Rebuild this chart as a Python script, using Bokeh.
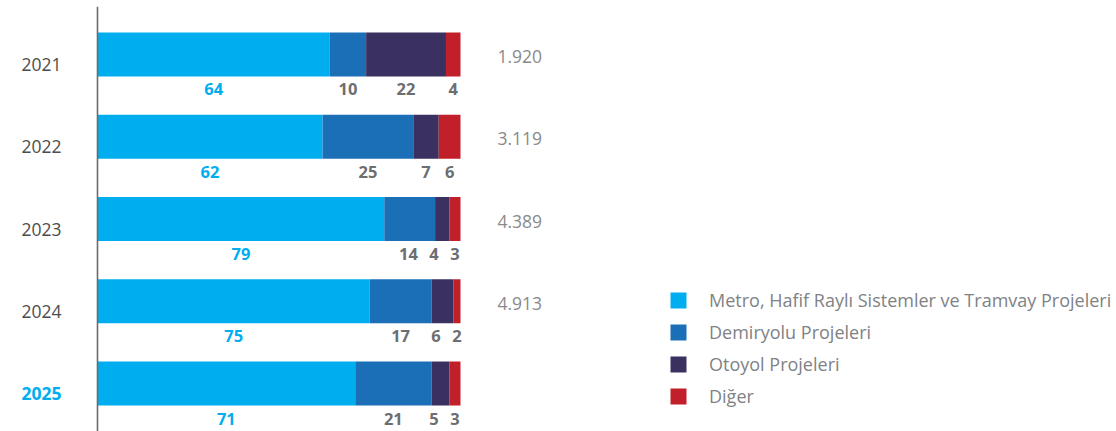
from bokeh.plotting import figure
from bokeh.models import Range1d, FactorRange, Span, Legend, LegendItem, ColumnDataSource
from bokeh.core.properties import value
from bokeh.embed import file_html
from bokeh.resources import INLINE

# ---- data ----
years = ["2021", "2022", "2023", "2024", "2025"]
series_names = ["Metro, Hafif Raylı Sistemler ve Tramvay Projeleri",
                "Demiryolu Projeleri", "Otoyol Projeleri", "Diğer"]
metro = [64, 62, 79, 75, 71]
demiryolu = [10, 25, 14, 17, 21]
otoyol = [22, 7, 4, 6, 5]
diger = [4, 6, 3, 2, 3]
totals = ["1.920", "3.119", "4.389", "4.913", ""]

# ---- style ----
FONT = "Open Sans"
COLORS = ["#00AEEF", "#1B6FB6", "#3B3161", "#C1202A"]
W, H = 1116, 431
AX_PX = 97          # pixel position of x=0 inside the figure
PPU = 3.63          # pixels per percent

keys = ["metro", "demiryolu", "otoyol", "diger"]
vals = [metro, demiryolu, otoyol, diger]
src = ColumnDataSource(dict(year=years, metro=metro, demiryolu=demiryolu,
                            otoyol=otoyol, diger=diger))

p = figure(width=W, height=H, output_backend="svg", toolbar_location=None,
           x_range=Range1d(-AX_PX / PPU, (W - AX_PX) / PPU),
           y_range=FactorRange(factors=list(reversed(years)), range_padding=0.0834,
                               range_padding_units="absolute"),
           x_axis_location=None, y_axis_location=None,
           min_border_left=0, min_border_right=0, min_border_top=6, min_border_bottom=0)
p.outline_line_color = None
p.xgrid.visible = False
p.ygrid.visible = False
p.background_fill_color = None
p.border_fill_color = None

renderers = p.hbar_stack(keys, y="year", height=0.535, color=COLORS, line_color=None, source=src)

# axis line at x = 0
p.add_layout(Span(location=0, dimension="height", line_color="#6b6b6b", line_width=1.6))

# year labels
p.text(x=[0] * len(years), y=years, text=years,
       text_color=["#4d4d4d"] * 4 + ["#00AEEF"],
       text_font_style=["normal"] * 4 + ["bold"],
       text_font=value(FONT), text_font_size="17.5px",
       text_align="right", text_baseline="middle", x_offset=-36, y_offset=10)

# segment value labels, centred under each segment, nudged apart from the right
lx, ly, lt, lc = [], [], [], []
for i, yr in enumerate(years):
    row = [v[i] for v in vals]
    left = 0
    centers = []
    for v in row:
        centers.append(left + v / 2)
        left += v
    widths = [9 * len(str(v)) for v in row]
    for j in range(len(row) - 1, 0, -1):
        gap = ((widths[j - 1] + widths[j]) / 2 + 12) / PPU
        centers[j - 1] = min(centers[j - 1], centers[j] - gap)
    for j, v in enumerate(row):
        lx.append(centers[j])
        ly.append(yr)
        lt.append(str(v))
        lc.append("#00AEEF" if j == 0 else "#6d6e71")
p.text(x=lx, y=ly, text=lt, text_color=lc, text_font=value(FONT),
       text_font_size="16.5px", text_font_style="bold",
       text_align="center", text_baseline="middle", y_offset=35)

# totals on the right
p.text(x=[100] * len(years), y=years, text=totals, text_color="#8a8a8a",
       text_font=value(FONT), text_font_size="17.5px",
       text_align="left", text_baseline="middle", x_offset=37, y_offset=2)

legend = Legend(items=[LegendItem(label=n, renderers=[r]) for n, r in zip(series_names, renderers)],
                location=(668, 23), orientation="vertical")
legend.glyph_width = 20
legend.glyph_height = 20
legend.label_height = 22
legend.spacing = 8
legend.label_standoff = 21
legend.padding = 0
legend.margin = 0
legend.border_line_color = None
legend.background_fill_alpha = 0
legend.label_text_font = FONT
legend.label_text_font_size = "18px"
legend.label_text_color = "#808285"
p.add_layout(legend, "center")

open("out.html", "w").write(file_html(p, INLINE))
